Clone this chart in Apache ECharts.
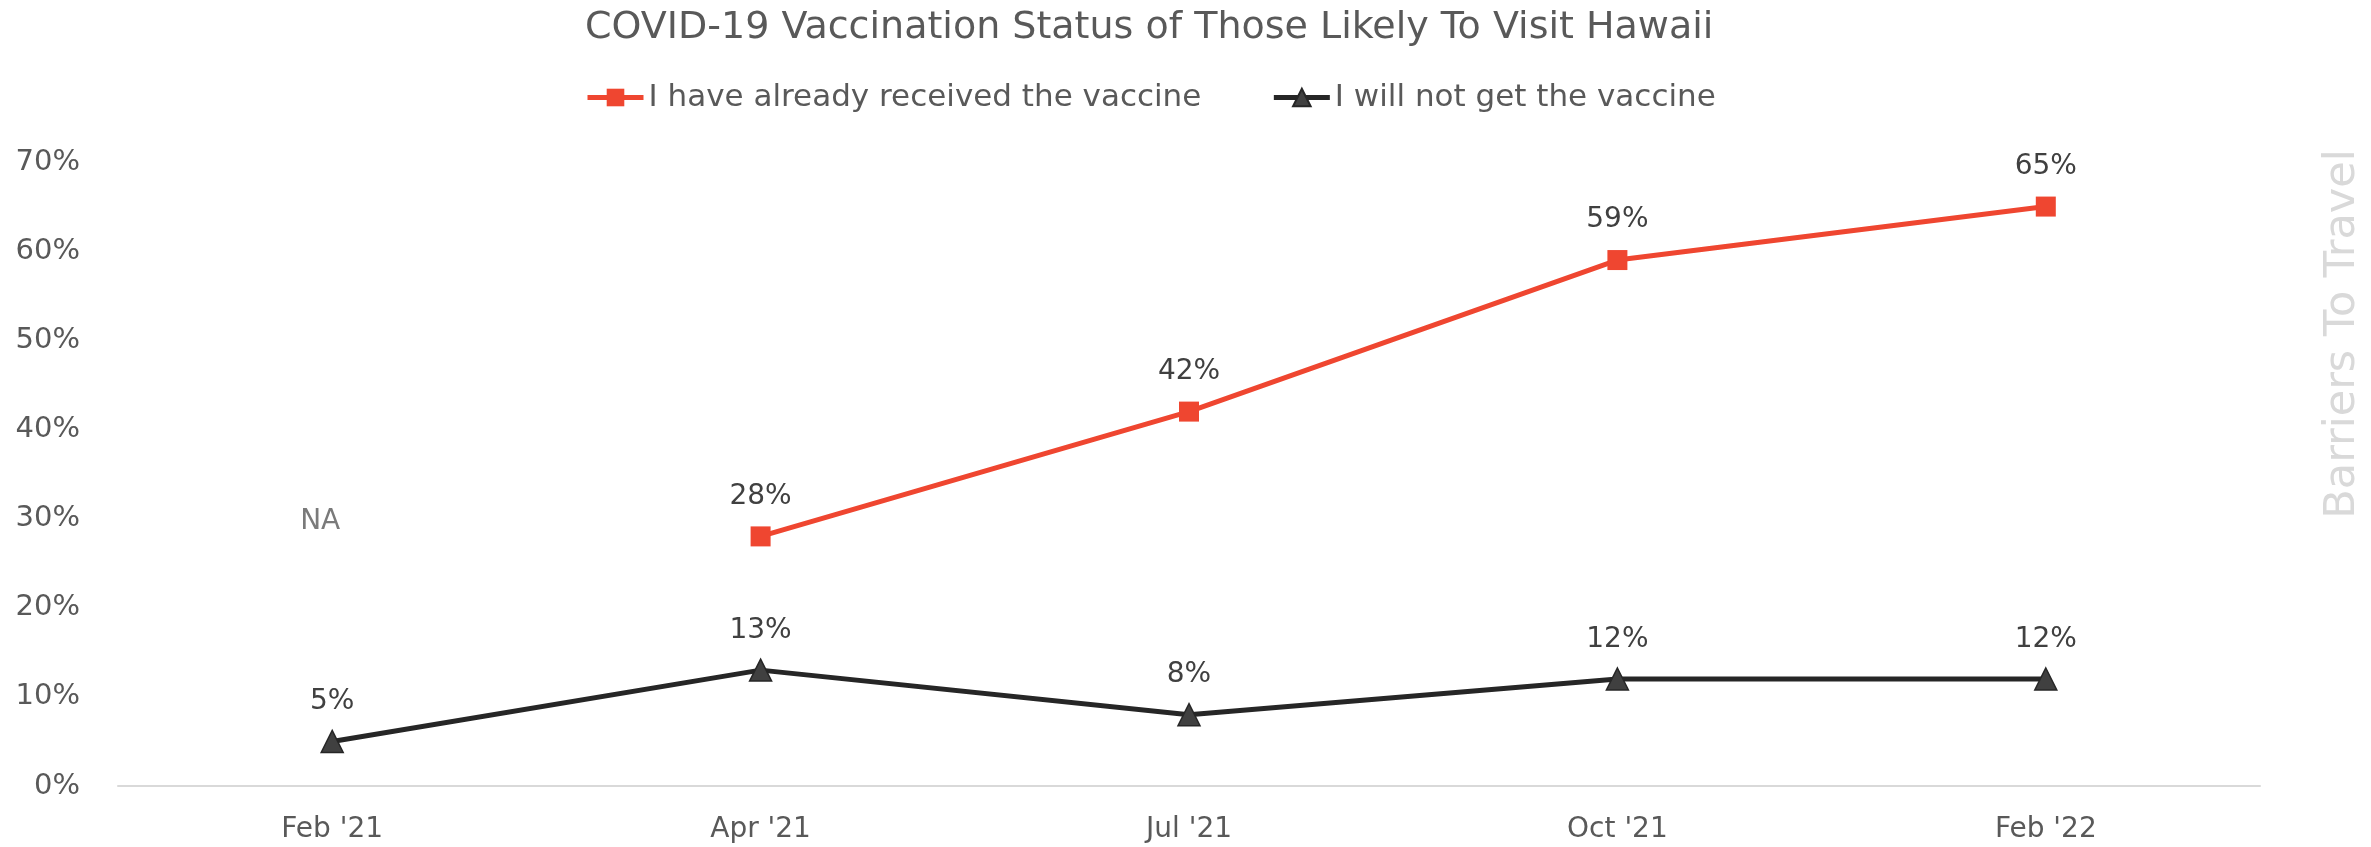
<!DOCTYPE html>
<html>
<head>
<meta charset="utf-8">
<script src="https://cdn.jsdelivr.net/npm/echarts@6/dist/echarts.min.js"></script>
<style>
html,body{margin:0;padding:0;background:#fff;}
#chart{width:2371px;height:847px;}
</style>
</head>
<body>
<div id="chart"></div>
<script>
const categories = ["Feb '21", "Apr '21", "Jul '21", "Oct '21", "Feb '22"];
const received = [null, 28, 42, 59, 65];
const willNot = [5, 13, 8, 12, 12];
const naLabelPos = [29.6, null, null, null, null];
const yTicks = [0, 10, 20, 30, 40, 50, 60, 70];

const FONT = "'DejaVu Sans', sans-serif";
const RED = '#EF4630';
const DARK = '#262626';
const chart = echarts.init(document.getElementById('chart'), null, {renderer: 'canvas'});
chart.setOption({
  animation: false,
  backgroundColor: '#ffffff',
  title: {
    text: 'COVID-19 Vaccination Status of Those Likely To Visit Hawaii',
    left: 580,
    top: 4,
    textStyle: {fontFamily: FONT, fontSize: 38, fontWeight: 'normal', color: '#595959'}
  },
  legend: {
    top: 77,
    left: 580,
    itemWidth: 56,
    itemHeight: 22,
    itemGap: 70,
    data: [
      {name: 'I have already received the vaccine', lineStyle: {width: 5, color: RED}},
      {name: 'I will not get the vaccine', lineStyle: {width: 5, color: DARK}}
    ],
    textStyle: {fontFamily: FONT, fontSize: 31, color: '#595959'}
  },
  grid: {left: 118, right: 111, top: 162, bottom: 61, containLabel: false},
  xAxis: {
    type: 'category',
    data: categories,
    boundaryGap: true,
    axisLine: {lineStyle: {color: '#d9d9d9', width: 2}},
    axisTick: {show: false},
    axisLabel: {fontFamily: FONT, fontSize: 28, color: '#595959', margin: 30}
  },
  yAxis: {
    type: 'value',
    min: yTicks[0],
    max: yTicks[yTicks.length - 1],
    interval: 10,
    splitLine: {show: false},
    axisLine: {show: false},
    axisTick: {show: false},
    axisLabel: {fontFamily: FONT, fontSize: 29, color: '#595959', margin: 38, formatter: v => v + '%'}
  },
  series: [
    {
      name: 'I have already received the vaccine',
      type: 'line',
      data: received,
      connectNulls: false,
      symbol: 'rect',
      symbolSize: 20,
      itemStyle: {color: RED},
      lineStyle: {color: RED, width: 5},
      label: {show: true, position: 'top', distance: 16, fontFamily: FONT, fontSize: 28, color: '#404040', formatter: p => p.value + '%'}
    },
    {
      name: 'I will not get the vaccine',
      type: 'line',
      data: willNot,
      symbol: 'triangle',
      symbolSize: [22, 22],
      itemStyle: {color: '#404040', borderColor: DARK, borderWidth: 1.5},
      lineStyle: {color: DARK, width: 5},
      label: {show: true, position: 'top', distance: 14, fontFamily: FONT, fontSize: 28, color: '#404040', formatter: p => p.value + '%'}
    },
    {
      name: 'NA',
      type: 'scatter',
      data: naLabelPos,
      symbolSize: 1,
      itemStyle: {color: 'rgba(0,0,0,0)'},
      label: {show: true, position: 'inside', offset: [-12, 0], fontFamily: FONT, fontSize: 28, color: '#595959', formatter: 'NA'},
      silent: true
    }
  ],
  graphic: [
    {
      type: 'text',
      x: 2343,
      y: 334,
      rotation: Math.PI / 2,
      style: {
        text: 'Barriers To Travel',
        fontFamily: FONT,
        fontSize: 43,
        fill: '#d9d9d9',
        textAlign: 'center',
        textVerticalAlign: 'middle'
      }
    }
  ]
});
</script>
</body>
</html>
